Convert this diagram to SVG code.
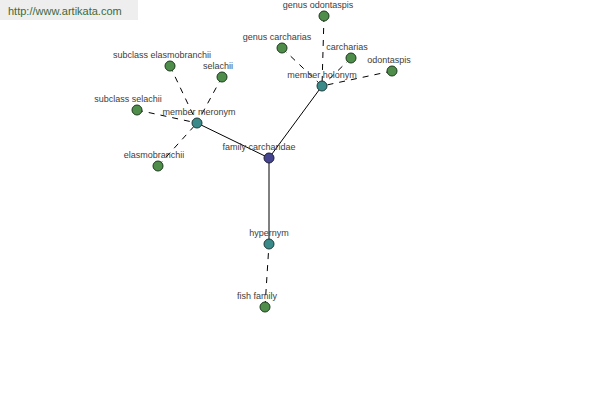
<svg xmlns="http://www.w3.org/2000/svg" width="600" height="400" viewBox="0 0 600 400">
<style>
text{font-family:"Liberation Sans",Arial,sans-serif;font-size:9px;fill:#404040;text-anchor:middle}
.solid{stroke:#000;stroke-width:1;fill:none}
.dash{stroke:#000;stroke-width:1;fill:none;stroke-dasharray:6 6}
.leaf{fill:#4e8e4a;stroke:#1e3a1e;stroke-width:1}
.hub{fill:#3a8a8a;stroke:#1e3a3a;stroke-width:1}
.root{fill:#45458f;stroke:#1e1e3a;stroke-width:1}
</style>
<rect width="600" height="400" fill="#fff"/>
<g id="header">
<rect x="0" y="0" width="138" height="20" fill="#eeeeee"/>
<text x="8" y="15" style="font-size:11px;fill:#3c6a3c;text-anchor:start">http://www.artikata.com</text>
</g>
<g id="connectors">
<line class="solid" x1="269" y1="158" x2="197" y2="123"/>
<line class="solid" x1="269" y1="158" x2="322" y2="86"/>
<line class="solid" x1="269" y1="158" x2="269" y2="244"/>
<line class="dash" x1="265" y1="307" x2="269" y2="244"/>
<line class="dash" x1="324" y1="16" x2="322" y2="86"/>
<line class="dash" x1="282" y1="48" x2="322" y2="86"/>
<line class="dash" x1="351" y1="58" x2="322" y2="86"/>
<line class="dash" x1="392" y1="71" x2="322" y2="86"/>
<line class="dash" x1="170" y1="66" x2="197" y2="123"/>
<line class="dash" x1="222" y1="77" x2="197" y2="123"/>
<line class="dash" x1="137" y1="110" x2="197" y2="123"/>
<line class="dash" x1="158" y1="166" x2="197" y2="123"/>
</g>
<g id="n-family-carcharidae"><circle class="root" cx="269" cy="158" r="5"/><text x="259" y="150">family carcharidae</text></g>
<g id="n-member-meronym"><circle class="hub" cx="197" cy="123" r="5"/><text x="199" y="115">member meronym</text></g>
<g id="n-member-holonym"><circle class="hub" cx="322" cy="86" r="5"/><text x="322" y="78">member holonym</text></g>
<g id="n-hypernym"><circle class="hub" cx="269" cy="244" r="5"/><text x="269" y="236">hypernym</text></g>
<g id="n-fish-family"><circle class="leaf" cx="265" cy="307" r="5"/><text x="257" y="299">fish family</text></g>
<g id="n-genus-odontaspis"><circle class="leaf" cx="324" cy="16" r="5"/><text x="318" y="8">genus odontaspis</text></g>
<g id="n-genus-carcharias"><circle class="leaf" cx="282" cy="48" r="5"/><text x="277" y="40">genus carcharias</text></g>
<g id="n-carcharias"><circle class="leaf" cx="351" cy="58" r="5"/><text x="347" y="50">carcharias</text></g>
<g id="n-odontaspis"><circle class="leaf" cx="392" cy="71" r="5"/><text x="389" y="63">odontaspis</text></g>
<g id="n-subclass-elasmobranchii"><circle class="leaf" cx="170" cy="66" r="5"/><text x="162" y="58">subclass elasmobranchii</text></g>
<g id="n-selachii"><circle class="leaf" cx="222" cy="77" r="5"/><text x="218" y="69">selachii</text></g>
<g id="n-subclass-selachii"><circle class="leaf" cx="137" cy="110" r="5"/><text x="128" y="102">subclass selachii</text></g>
<g id="n-elasmobranchii"><circle class="leaf" cx="158" cy="166" r="5"/><text x="154" y="158">elasmobranchii</text></g>
</svg>
